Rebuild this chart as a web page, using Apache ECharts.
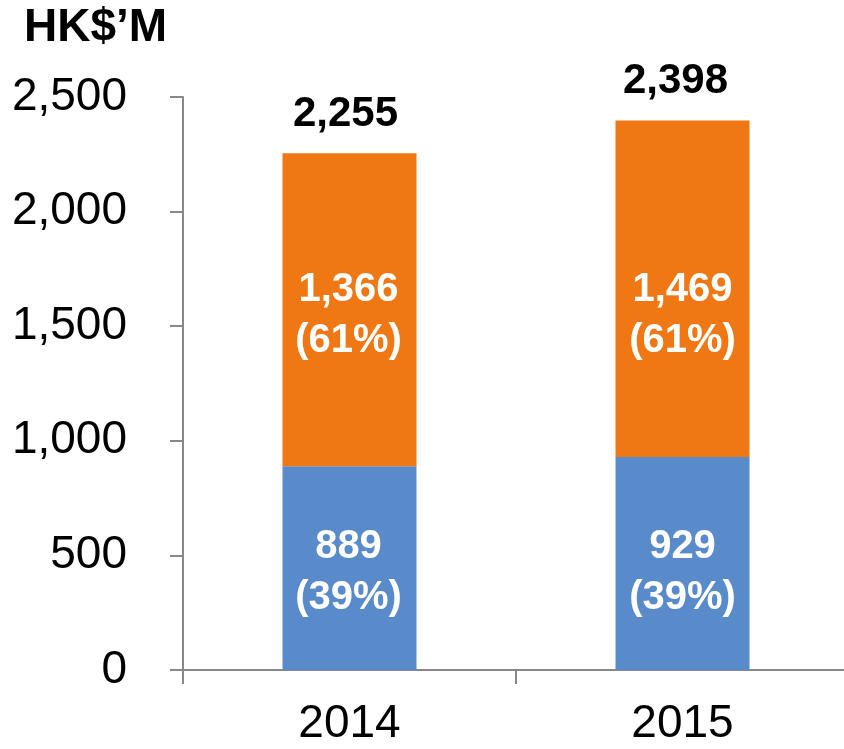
<!DOCTYPE html>
<html>
<head>
<meta charset="utf-8">
<script src="https://cdn.jsdelivr.net/npm/echarts@6/dist/echarts.min.js"></script>
<style>
  html, body { margin: 0; padding: 0; background: #fff; }
  #chart { width: 844px; height: 749px; }
</style>
</head>
<body>
<div id="chart"></div>
<script>
// 数据
const years = ['2014', '2015']
const blueValues = [889, 929]
const bluePct = [39, 39]
const orangeValues = [1366, 1469]
const orangePct = [61, 61]
const totals = [2255, 2398]

const fmt = (v) => v.toLocaleString('en-US')
const font = 'Liberation Sans, Arial, sans-serif'

// 标签微调（原图中标签并不完全居中）
const blueLabelShift = [[-1, 4], [0, 9]]
const orangeLabelShift = [[-1, 6], [0, 27]]
const totalLabelShift = [[-4, 0], [-7, 0]]

const insideLabel = (pct) => ({
  show: true,
  position: 'inside',
  fontFamily: font,
  fontSize: 40,
  fontWeight: 'bold',
  color: '#fff',
  lineHeight: 51,
  formatter: (p) => fmt(p.value) + '\n(' + pct[p.dataIndex] + '%)'
})

const chart = echarts.init(document.getElementById('chart'))

const option = {
  animation: false,
  title: {
    text: 'HK$\u2019M',
    left: 24,
    top: 5,
    padding: 0,
    textStyle: { fontFamily: font, fontSize: 46, fontWeight: 'bold', color: '#000' }
  },
  grid: { left: 183, top: 97, width: 666, height: 573, outerBoundsMode: 'none', containLabel: false },
  xAxis: {
    type: 'category',
    data: years,
    axisLine: { show: true, lineStyle: { color: '#888', width: 2 } },
    axisTick: { show: true, length: 14, lineStyle: { color: '#888', width: 2 } },
    axisLabel: { margin: 31, fontFamily: font, fontSize: 46, color: '#000' }
  },
  yAxis: {
    type: 'value',
    min: 0,
    max: 2500,
    interval: 500,
    axisLine: { show: true, lineStyle: { color: '#888', width: 2 } },
    axisTick: { show: true, length: 13, lineStyle: { color: '#888', width: 2 } },
    splitLine: { show: false },
    axisLabel: {
      margin: 56,
      fontFamily: font,
      fontSize: 46,
      color: '#000',
      formatter: (v) => fmt(v)
    }
  },
  series: [
    {
      name: 'blue',
      type: 'bar',
      stack: 'a',
      barWidth: 134,
      data: blueValues.map((v, i) => ({ value: v, label: { offset: blueLabelShift[i] } })),
      itemStyle: { color: '#598bca' },
      label: insideLabel(bluePct)
    },
    {
      name: 'orange',
      type: 'bar',
      stack: 'a',
      barWidth: 134,
      data: orangeValues.map((v, i) => ({ value: v, label: { offset: orangeLabelShift[i] } })),
      itemStyle: { color: '#f07814' },
      label: insideLabel(orangePct)
    },
    {
      // 总计标签
      name: 'total',
      type: 'bar',
      barWidth: 134,
      barGap: '-100%',
      z: 1,
      data: totals.map((v, i) => ({ value: v, label: { offset: totalLabelShift[i] } })),
      itemStyle: { color: 'rgba(0,0,0,0)' },
      label: {
        show: true,
        position: 'top',
        distance: 18,
        fontFamily: font,
        fontSize: 42,
        fontWeight: 'bold',
        color: '#000',
        formatter: (p) => fmt(p.value)
      }
    }
  ]
}

chart.setOption(option)
</script>
</body>
</html>
